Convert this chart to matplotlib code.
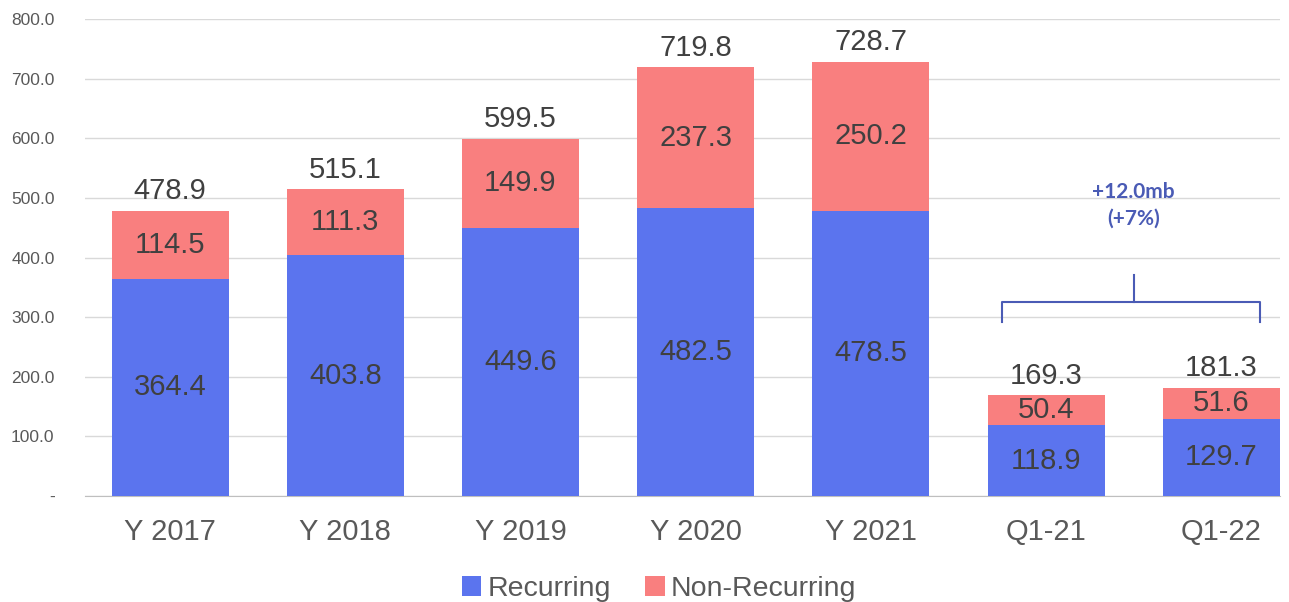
import numpy as np
import matplotlib
matplotlib.use('Agg')
import matplotlib.pyplot as plt
from matplotlib.ticker import FuncFormatter

plt.rcParams['font.family'] = ['Liberation Sans', 'DejaVu Sans']

categories = ['Y 2017', 'Y 2018', 'Y 2019', 'Y 2020', 'Y 2021', 'Q1-21', 'Q1-22']
recurring = [364.4, 403.8, 449.6, 482.5, 478.5, 118.9, 129.7]
non_recurring = [114.5, 111.3, 149.9, 237.3, 250.2, 50.4, 51.6]
totals = [478.9, 515.1, 599.5, 719.8, 728.7, 169.3, 181.3]
delta_text = '+12.0mb\n(+7%)'

BLUE = '#5B74EE'
RED = '#F97F7F'
TXT = '#404040'

fig = plt.figure(figsize=(12.89, 6.02), dpi=100)
ax = fig.add_axes([0.066, 0.176, 0.927, 0.792])

x = np.arange(len(categories))
w = 0.668
ax.bar(x, recurring, w, color=BLUE, label='Recurring', zorder=3)
ax.bar(x, non_recurring, w, bottom=recurring, color=RED,
       label='Non-Recurring', zorder=3)

for i in range(len(x)):
    ax.text(x[i], recurring[i] / 2, f'{recurring[i]:.1f}', ha='center',
            va='center', fontsize=21, color=TXT, zorder=4)
    ax.text(x[i], recurring[i] + non_recurring[i] / 2, f'{non_recurring[i]:.1f}',
            ha='center', va='center', fontsize=21, color=TXT, zorder=4)
    ax.annotate(f'{totals[i]:.1f}', (x[i], totals[i]), xytext=(0, 4),
                textcoords='offset points', ha='center', va='bottom',
                fontsize=21, color=TXT)

# bracket over the two quarters
bc = '#4A5BB5'
ax.plot([4.75, 4.75, 6.22, 6.22], [292, 325, 325, 292], color=bc, lw=1.5,
        zorder=5)
ax.plot([5.5, 5.5], [325, 371], color=bc, lw=1.5, zorder=5)
ax.text(5.5, 488, delta_text, ha='center', va='center', fontsize=15,
        color=bc, fontweight='bold', linespacing=1.4,
        family=['Lato', 'DejaVu Sans'])

ax.set_xlim(-0.485, 6.335)
ax.set_ylim(0, 800)
ax.set_yticks(np.arange(0, 801, 100))
ax.yaxis.set_major_formatter(FuncFormatter(
    lambda v, p: '-' if v == 0 else f'{v:.1f}'))
ax.set_xticks(x)
ax.set_xticklabels(categories)
ax.tick_params(axis='y', length=0, pad=22, labelsize=12.5, labelcolor='#595959')
ax.tick_params(axis='x', length=0, pad=16, labelsize=21, labelcolor='#595959')
ax.grid(axis='y', color='#D9D9D9', lw=1, zorder=0)
for s in ['top', 'right', 'left']:
    ax.spines[s].set_visible(False)
ax.spines['bottom'].set_color('#BFBFBF')

ax.legend(loc='lower center', bbox_to_anchor=(0.48, -0.258), ncol=2,
          frameon=False, fontsize=20.5, handlelength=0.7, handleheight=0.7,
          handletextpad=0.2, columnspacing=1.2, labelcolor='#595959',
          borderpad=0.1)

fig.savefig('out.png', dpi=100)
